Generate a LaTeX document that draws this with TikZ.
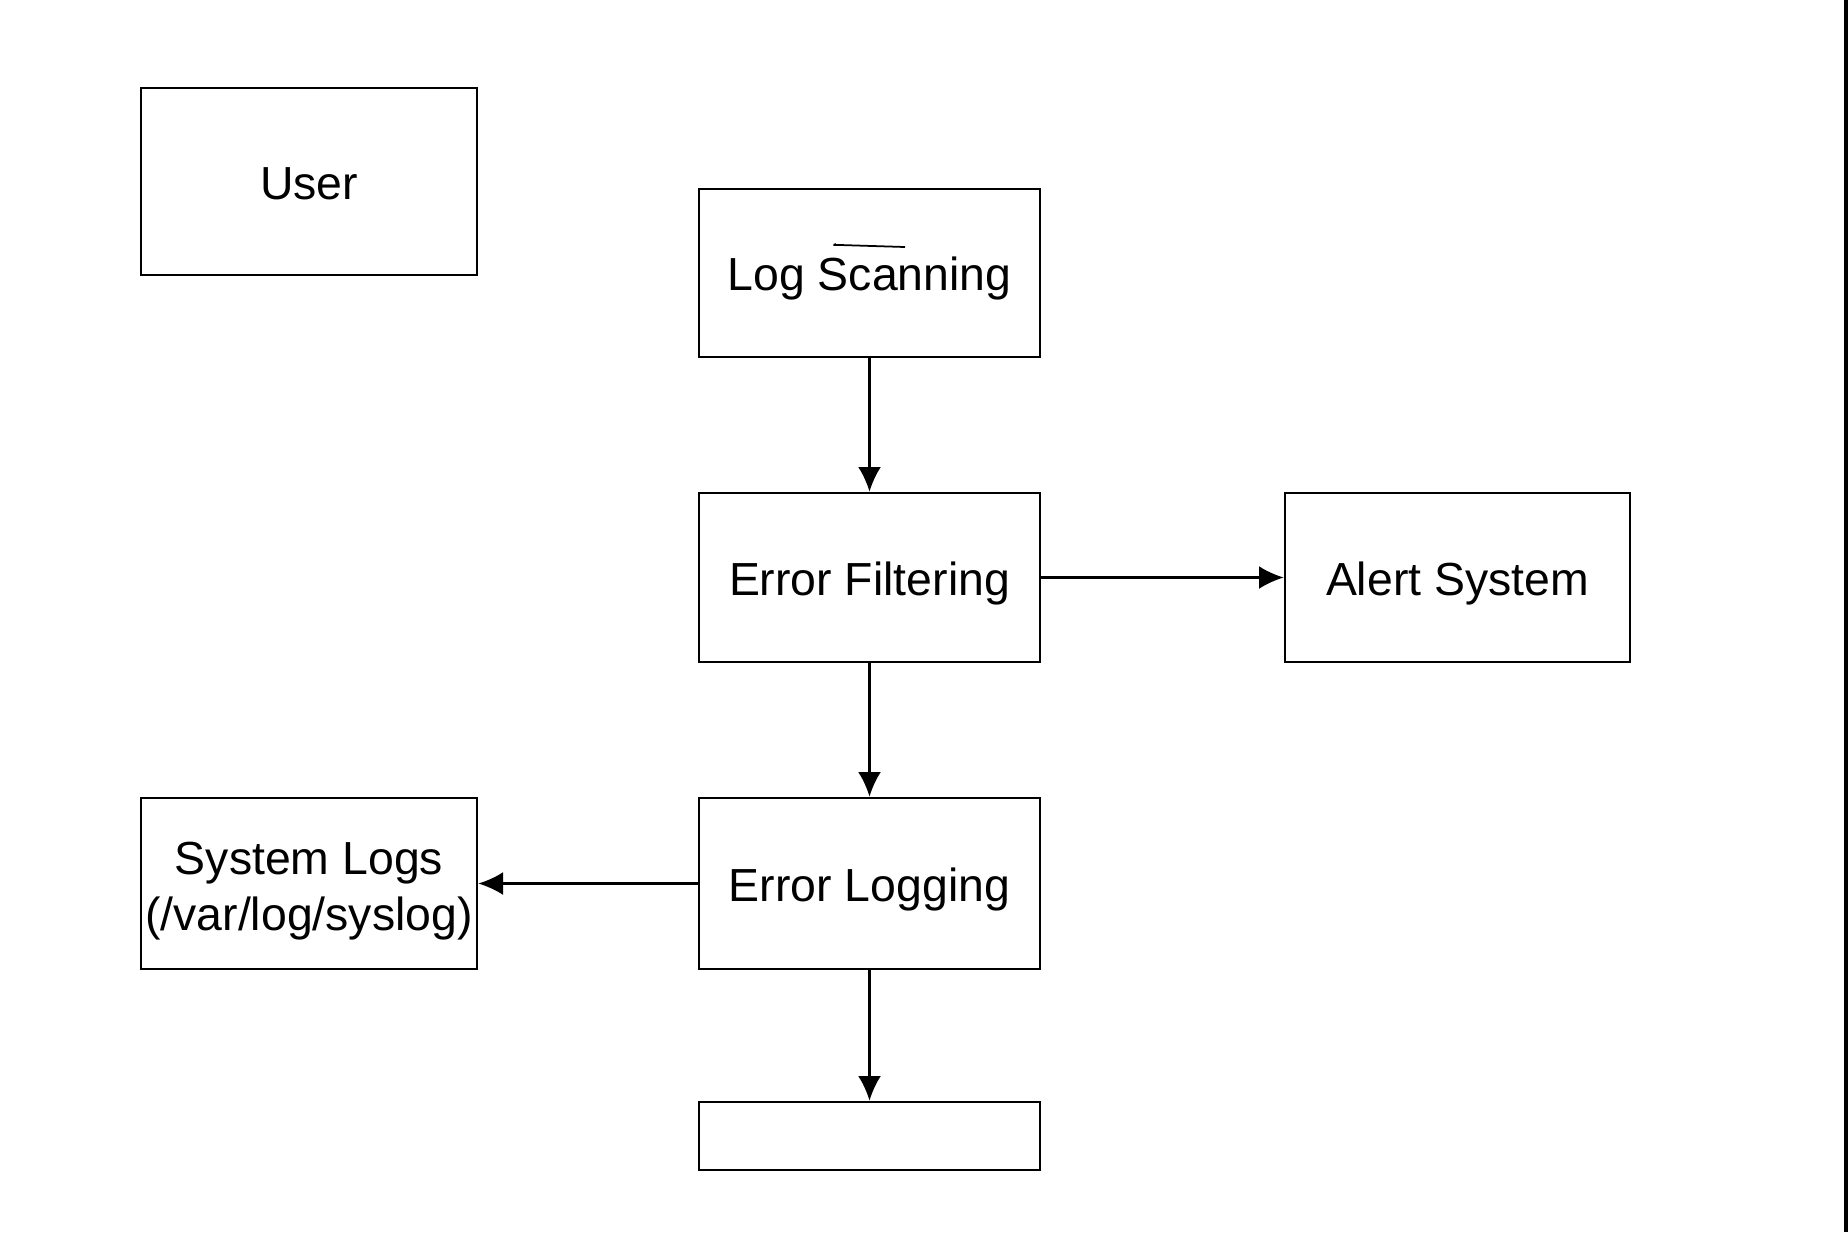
\documentclass[tikz,border=0pt]{standalone}
\usepackage{fontspec}
\setmainfont{Liberation Sans}
\usetikzlibrary{arrows.meta}
\begin{document}
\begin{tikzpicture}[
    box/.style={draw, line width=0.8pt, align=center, inner sep=0pt,
                text height=10pt, text depth=0pt,
                font=\fontsize{13.2}{16.1}\selectfont},
    >={Latex[length=7pt,width=6.5pt]}
  ]
  \useasboundingbox (0,0) rectangle (18.48,-12.32);
  \draw[line width=1.2pt] (18.46,0) -- (18.46,-12.32);

  \node[box, minimum width=3.36cm, minimum height=1.87cm] (user) at (3.09,-1.815) {User};

  \node[box, minimum width=3.41cm, minimum height=1.68cm] (scan) at (8.695,-2.73) {Log Scanning};
  \draw[line width=0.5pt] (8.36,-2.44) .. controls (8.33,-2.45) .. (8.40,-2.45) -- (9.05,-2.47);% stray mark

  \node[box, minimum width=3.41cm, minimum height=1.69cm] (filter) at (8.695,-5.775) {Error Filtering};
  \node[box, minimum width=3.45cm, minimum height=1.69cm] (alert) at (14.575,-5.775) {Alert System};

  \node[box, minimum width=3.41cm, minimum height=1.71cm] (logging) at (8.695,-8.835) {Error Logging};
  \node[box, minimum width=3.36cm, minimum height=1.71cm, text height=27pt] (syslogs) at (3.09,-8.835) {System Logs\\(/var/log/syslog)};

  \node[box, minimum width=3.41cm, minimum height=0.68cm] (out) at (8.695,-11.36) {};

  \draw[->, line width=0.6pt] (scan) -- (filter);
  \draw[->, line width=0.6pt] (filter) -- (alert);
  \draw[->, line width=0.6pt] (filter) -- (logging);
  \draw[->, line width=0.6pt] (logging) -- (syslogs);
  \draw[->, line width=0.6pt] (logging) -- (out);
\end{tikzpicture}
\end{document}
